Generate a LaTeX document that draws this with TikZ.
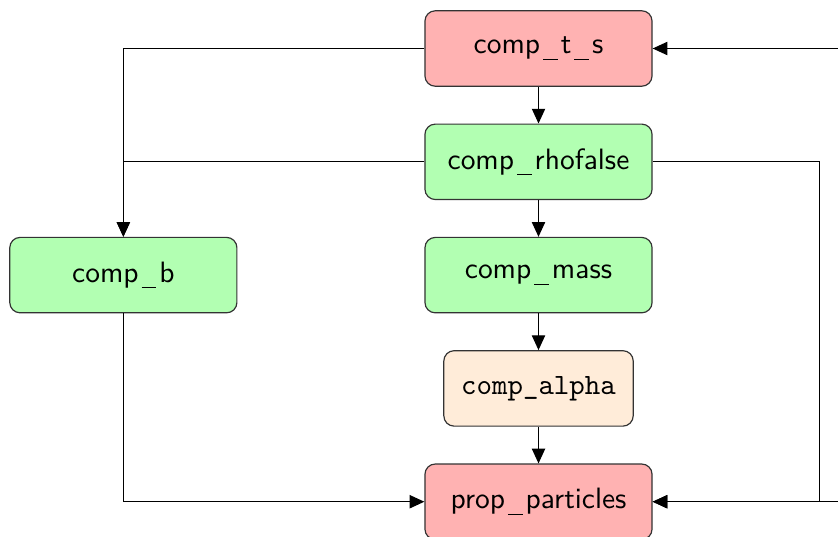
\documentclass[tikz,border=0pt]{standalone}
\usepackage{tikz}
\usetikzlibrary{positioning,arrows.meta,calc}
% thin spaced underscore for the sans labels
\newcommand{\usc}{\kern0.1em\rule[-0.2em]{0.5em}{0.45pt}\kern0.1em}

\begin{document}
\begin{tikzpicture}[
    node distance=0.438cm,
    basebox/.style={
      rectangle, rounded corners=3.5pt, draw=black!80, thin, align=center,
      minimum width=2.71cm, minimum height=0.9cm, font=\sffamily
    },
    rbox/.style={basebox, fill=red!30},
    gbox/.style={basebox, fill=green!30},
    obox/.style={basebox, fill=orange!15, minimum width=2.26cm, font=\ttfamily},
    arr/.style={-{Triangle[length=5pt, width=4.5pt]}, thin, draw=black}
  ]
    \clip (0,0) coordinate (sw) rectangle (10,6.408) coordinate (ne);

    \node[rbox] (ts) at (6.426,5.829) {comp\usc t\usc s};
    \node[gbox, below=of ts] (rho) {comp\usc rhofalse};
    \node[gbox, below=of rho] (mass) {comp\usc mass};
    \node[gbox, left=2.23cm of mass] (b) {comp\usc b};
    \node[obox, below=of mass] (alpha) {comp\_alpha};
    \node[rbox, below=of alpha] (pp) {prop\usc particles};

    \draw[arr] (ts) -- (rho);
    \draw[arr] (rho) -- (mass);
    \draw[arr] (mass) -- (alpha);
    \draw[arr] (alpha) -- (pp);

    \draw[arr] (ts.west) -| (b.north);
    \draw[arr] (rho.west) -| (b.north);
    \draw[arr] (b.south) |- (pp.west);
    \draw[arr] (rho.east) -- ++(1.99,0) |- (pp.east);

    % feeds coming in from off the right edge
    \draw[arr] (ts.east -| ne) -- (ts.east);
    \draw[arr] (pp.east -| ne) -- (pp.east);
  \end{tikzpicture}
\end{document}
